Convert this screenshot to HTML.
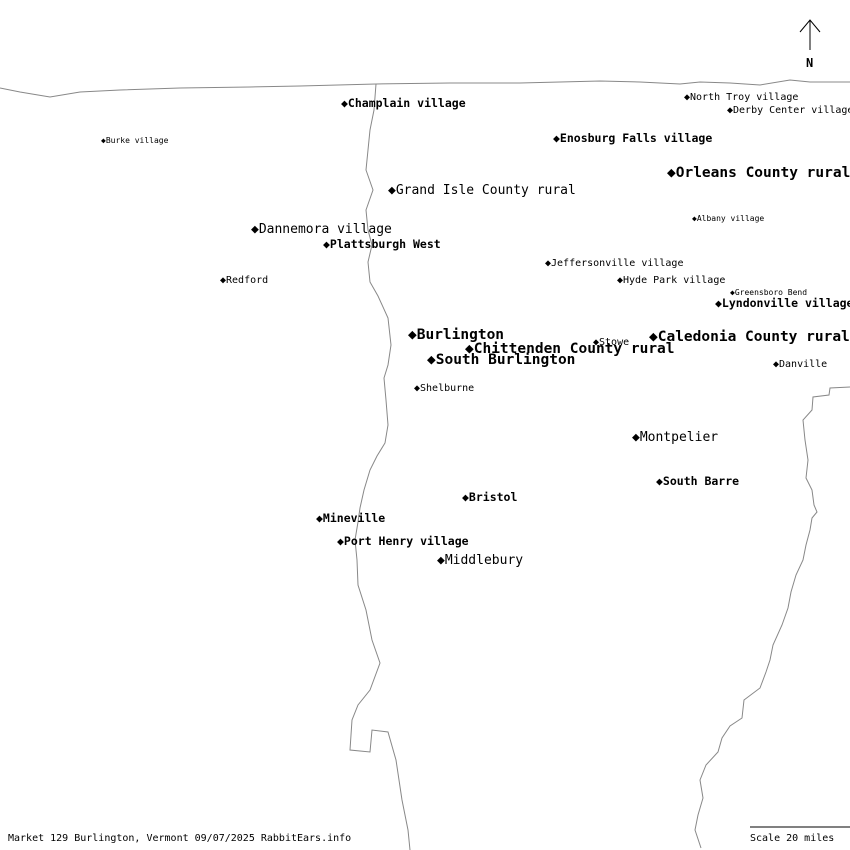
<!DOCTYPE html>
<html><head><meta charset="utf-8"><style>
html,body{margin:0;padding:0;background:#fff;}
svg{display:block;}
text{font-family:"DejaVu Sans Mono","Liberation Mono",monospace;fill:#000;}
.b{font-weight:bold;}
</style></head><body>
<svg width="850" height="850" viewBox="0 0 850 850" xmlns="http://www.w3.org/2000/svg">
<g fill="none" stroke="#888" stroke-width="1">
<polyline points="0,88 20,92 50,97 80,92 120,90 180,88 250,87 300,86 376,84 450,83 520,83 600,81 640,82 660,83 680,84 700,82 730,83 760,85 790,80 810,82 850,82"/>
<polyline points="376,84 374,110 370,130 368,150 366,170 373,190 366,210 368,230 372,245 368,262 370,282 378,296 388,318 391,345 388,365 384,378 386,400 388,425 385,443 377,456 370,470 364,490 360,508 358,522 355,540 357,560 358,585 366,610 372,640 380,663 370,690 358,705 352,720 350,750 370,752 372,730 388,732 396,760 402,800 408,830 410,850"/>
<polyline points="850,387 830,388 829,395 813,397 812,410 803,420 805,440 808,460 806,478 812,490 814,505 817,512 812,518 810,530 806,545 803,560 796,575 791,592 788,608 782,625 773,645 770,660 766,672 760,688 744,700 742,718 730,726 722,738 718,752 706,765 700,780 703,798 698,815 695,830 701,848"/>
</g>
<line x1="810" y1="20" x2="810" y2="50" stroke="#000"/>
<polyline points="800,32 810,20 820,32" fill="none" stroke="#000"/>
<text x="806" y="67" class="b" font-size="12">N</text>
<g font-size="11.5">
<text x="341" y="107" class="b">◆Champlain village</text>
<text x="553" y="142" class="b">◆Enosburg Falls village</text>
<text x="323" y="248" class="b">◆Plattsburgh West</text>
<text x="715" y="307" class="b">◆Lyndonville village</text>
<text x="462" y="501" class="b">◆Bristol</text>
<text x="656" y="485" class="b">◆South Barre</text>
<text x="316" y="522" class="b">◆Mineville</text>
<text x="337" y="545" class="b">◆Port Henry village</text>
</g>
<g font-size="13">
<text x="388" y="194">◆Grand Isle County rural</text>
<text x="251" y="233">◆Dannemora village</text>
<text x="632" y="441">◆Montpelier</text>
<text x="437" y="564">◆Middlebury</text>
</g>
<g font-size="14.5" class="b">
<text x="667" y="177">◆Orleans County rural</text>
<text x="408" y="339">◆Burlington</text>
<text x="465" y="353">◆Chittenden County rural</text>
<text x="427" y="364">◆South Burlington</text>
<text x="649" y="341">◆Caledonia County rural</text>
</g>
<g font-size="10">
<text x="684" y="100">◆North Troy village</text>
<text x="727" y="113">◆Derby Center village</text>
<text x="545" y="266">◆Jeffersonville village</text>
<text x="617" y="283">◆Hyde Park village</text>
<text x="220" y="283">◆Redford</text>
<text x="593" y="345">◆Stowe</text>
<text x="414" y="391">◆Shelburne</text>
<text x="773" y="367">◆Danville</text>
<text x="8" y="841">Market 129 Burlington, Vermont 09/07/2025 RabbitEars.info</text>
<text x="750" y="841">Scale 20 miles</text>
</g>
<g font-size="8">
<text x="101" y="143">◆Burke village</text>
<text x="692" y="221">◆Albany village</text>
<text x="730" y="295">◆Greensboro Bend</text>
</g>
<line x1="750" y1="827" x2="850" y2="827" stroke="#000"/>
</svg>
</body></html>
